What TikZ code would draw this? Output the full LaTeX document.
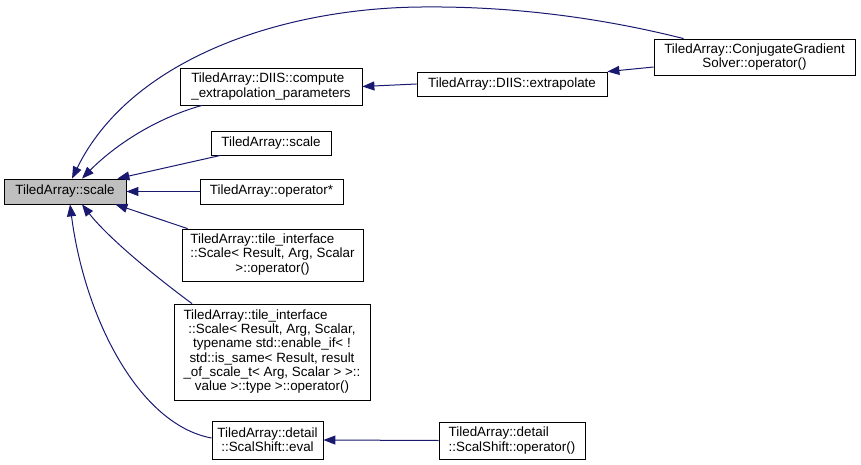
\documentclass[tikz,border=0pt]{standalone}
\usepackage{fontspec}
\setmainfont{Liberation Sans}
\usetikzlibrary{arrows.meta}
\definecolor{edgeblue}{HTML}{191970}
\definecolor{maingray}{HTML}{BFBFBF}
\begin{document}
\begin{tikzpicture}[x=1pt,y=-1pt,
  box/.style={draw=black, line width=0.8pt, fill=white, inner sep=0pt, font=\fontsize{13.4}{14.3}\selectfont},
  edge/.style={{Triangle[length=12pt,width=9pt]}-, draw=edgeblue, line width=1pt, color=edgeblue}]
\useasboundingbox (0,0) rectangle (861,465);
\renewcommand{\arraystretch}{1}
\node[box, fill=maingray, minimum width=122pt, minimum height=25pt] (main) at (65,191.5) {TiledArray::scale};
\node[box, minimum width=182pt, minimum height=37pt, align=left] (dc) at (271,86.5) {TiledArray::DIIS::compute\\\_extrapolation\_parameters};
\node[box, minimum width=120pt, minimum height=24pt] (s2) at (271,143) {TiledArray::scale};
\node[box, minimum width=143pt, minimum height=25pt] (op) at (271.5,191.5) {TiledArray::operator*};
\node[box, minimum width=181pt, minimum height=52pt] (t1) at (272.5,255) {\begin{tabular}{@{}l@{}}TiledArray::tile\_interface\\::Scale< Result, Arg, Scalar\\\multicolumn{1}{@{}c@{}}{>::operator()}\end{tabular}};
\node[box, minimum width=196pt, minimum height=96pt] (t2) at (272,352) {\begin{tabular}{@{}c@{}}\multicolumn{1}{@{}l@{}}{TiledArray::tile\_interface}\\::Scale< Result, Arg, Scalar,\\typename std::enable\_if< !\\std::is\_same< Result, result\\\_of\_scale\_t< Arg, Scalar > >::\\value >::type >::operator()\end{tabular}};
\node[box, minimum width=111pt, minimum height=38pt, align=center] (ev) at (267.5,440) {TiledArray::detail\\::ScalShift::eval};
\node[box, minimum width=146pt, minimum height=37pt, align=left] (so) at (512,440.5) {TiledArray::detail\\::ScalShift::operator()};
\node[box, minimum width=190pt, minimum height=24pt] (ex) at (512,84) {TiledArray::DIIS::extrapolate};
\node[box, minimum width=201pt, minimum height=36pt, align=center] (cg) at (754.5,57) {TiledArray::ConjugateGradient\\Solver::operator()};
% edges
\draw[edge] ([xshift=7pt]main.north) .. controls (130,60) and (280,8) .. (422,7) .. controls (520,6) and (610,20) .. ([xshift=30pt]cg.north west);
\draw[edge] ([xshift=17pt]main.north) .. controls (110,150) and (150,120) .. ([xshift=-69pt]dc.south);
\draw[edge] ([xshift=-9pt]main.north east) -- ([xshift=10pt]s2.south west);
\draw[edge] (main.east) -- (op.west);
\draw[edge] ([xshift=-11pt]main.south east) -- ([xshift=6pt]t1.north west);
\draw[edge] ([xshift=17pt]main.south) .. controls (110,240) and (160,280) .. ([xshift=-80pt]t2.north);
\draw[edge] ([xshift=5pt]main.south) .. controls (85,320) and (140,425) .. ([yshift=2pt]ev.west);
\draw[edge] (dc.east) -- (ex.west);
\draw[edge] (ex.north east) -- ([yshift=-10pt]cg.west);
\draw[edge] (ev.east) -- (so.west);
\end{tikzpicture}
\end{document}
